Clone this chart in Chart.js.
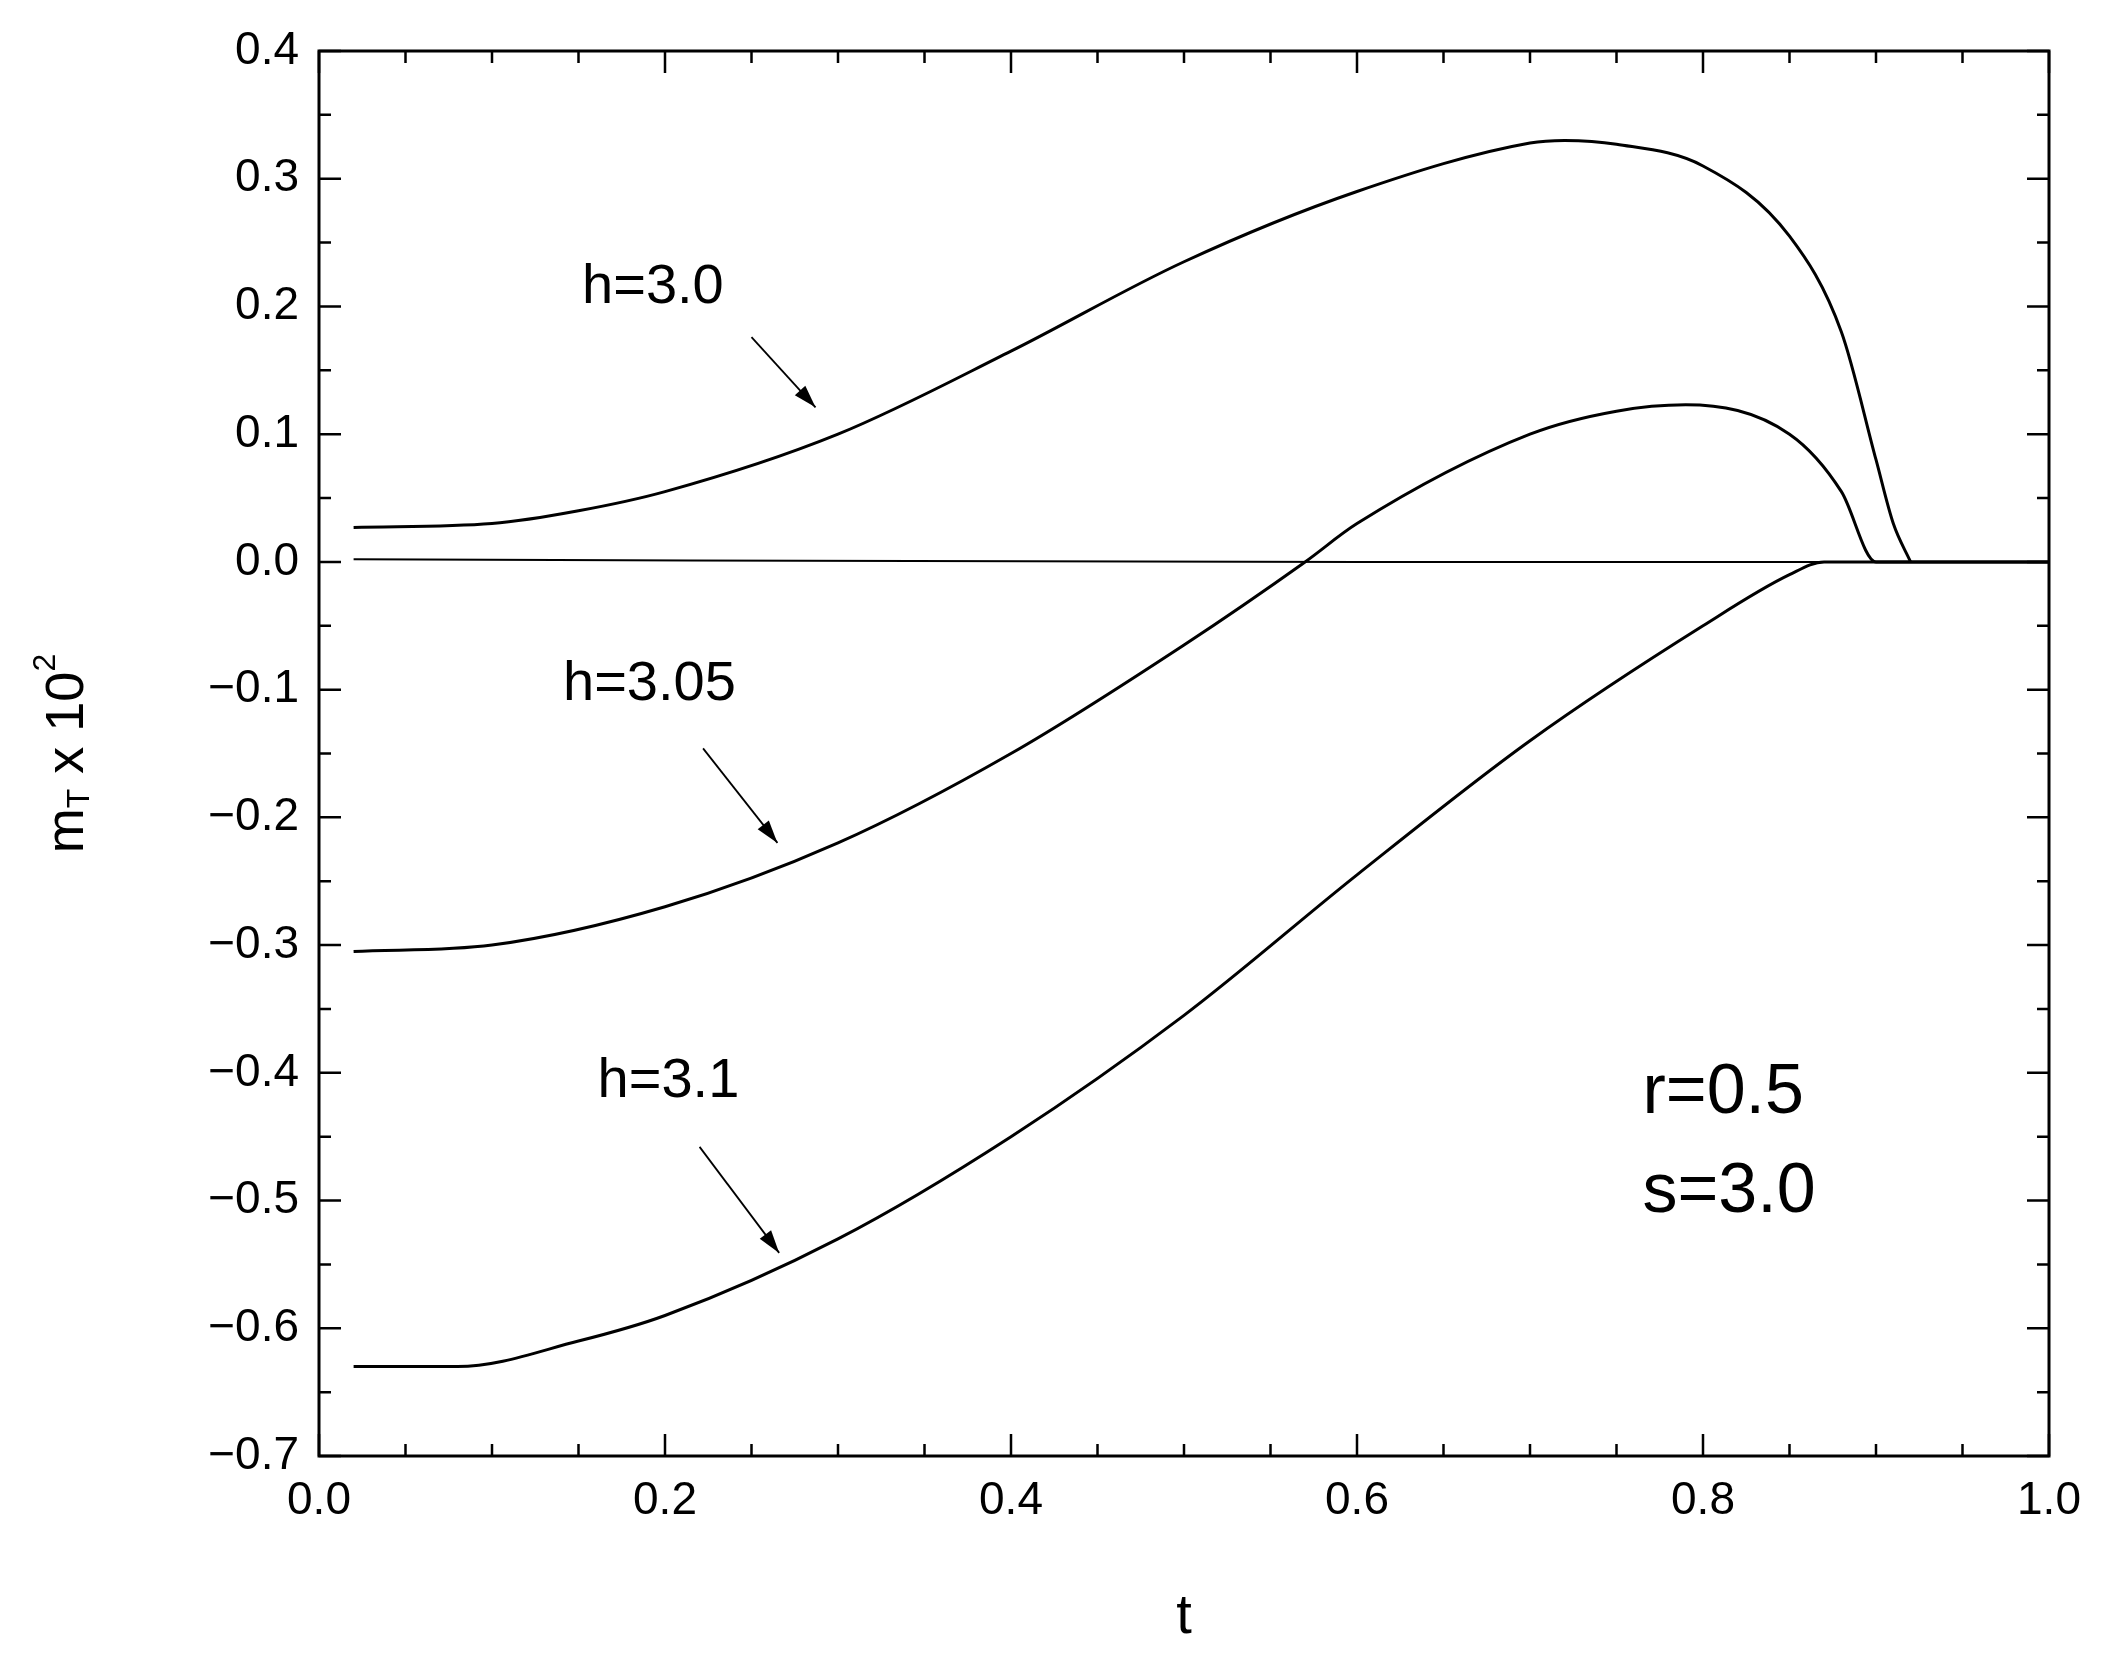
<!DOCTYPE html>
<html><head><meta charset="utf-8">
<script src="https://cdn.jsdelivr.net/npm/chart.js@4"></script>
<style>html,body{margin:0;background:#fff}#wrap{width:2112px;height:1672px}</style>
</head><body><div id="wrap"><canvas id="c"></canvas></div>
<script>
const h30T = [0.02, 0.1, 0.15, 0.2, 0.3, 0.4, 0.5, 0.6, 0.7, 0.72, 0.75, 0.8, 0.85, 0.88, 0.9, 0.91, 0.92]
const h30V = [0.027, 0.03, 0.04, 0.055, 0.1, 0.165, 0.235, 0.29, 0.328, 0.33, 0.327, 0.31, 0.255, 0.18, 0.08, 0.03, 0]
const h305T = [0.02, 0.1, 0.2, 0.3, 0.4, 0.5, 0.57, 0.6, 0.7, 0.75, 0.79, 0.85, 0.88, 0.9, 1.0]
const h305V = [-0.305, -0.3, -0.27, -0.22, -0.15, -0.065, 0, 0.03, 0.1, 0.118, 0.123, 0.1, 0.055, 0, 0]
const h31T = [0.02, 0.08, 0.15, 0.2, 0.3, 0.4, 0.5, 0.6, 0.7, 0.8, 0.85, 0.87, 1.0]
const h31V = [-0.63, -0.63, -0.61, -0.59, -0.53, -0.45, -0.355, -0.245, -0.14, -0.05, -0.01, 0, 0]
const zeroT = [0.02, 0.6, 1.0]
const zeroV = [0.002, 0, 0]

const labels = [
	{ text: 'h=3.0', t: 0.193, v: 0.215, at: [0.25, 0.176, 0.287, 0.121] },
	{ text: 'h=3.05', t: 0.191, v: -0.096, at: [0.222, -0.146, 0.265, -0.22] },
	{ text: 'h=3.1', t: 0.202, v: -0.407, at: [0.22, -0.458, 0.266, -0.541] }
]

const pts = (ts, vs) => ts.map((t, i) => ({ x: t, y: vs[i] }))
const line = (d, w) => ({ data: d, borderColor: 'black', borderWidth: w, pointRadius: 0, cubicInterpolationMode: 'monotone', fill: false })

const font = '"Liberation Sans", Arial, sans-serif'

const decor = {
	id: 'decor',
	afterDraw(chart) {
		const c = chart.ctx, a = chart.chartArea, x = chart.scales.x, y = chart.scales.y
		c.save()
		c.strokeStyle = 'black'
		c.lineWidth = 3
		c.strokeRect(a.left, a.top, a.right - a.left, a.bottom - a.top)
		// inside ticks
		c.lineWidth = 2.5
		for (let i = 0; i <= 20; i++) {
			const px = x.getPixelForValue(i * 0.05), L = i % 4 == 0 ? 22 : 12
			c.beginPath(); c.moveTo(px, a.bottom); c.lineTo(px, a.bottom - L)
			c.moveTo(px, a.top); c.lineTo(px, a.top + L); c.stroke()
		}
		for (let i = 0; i <= 22; i++) {
			const py = y.getPixelForValue(-0.7 + i * 0.05), L = i % 2 == 0 ? 22 : 12
			c.beginPath(); c.moveTo(a.left, py); c.lineTo(a.left + L, py)
			c.moveTo(a.right, py); c.lineTo(a.right - L, py); c.stroke()
		}
		c.fillStyle = 'black'
		c.font = '56px ' + font
		c.textAlign = 'center'; c.textBaseline = 'middle'
		for (const l of labels) {
			c.fillText(l.text, x.getPixelForValue(l.t), y.getPixelForValue(l.v))
			const x1 = x.getPixelForValue(l.at[0]), y1 = y.getPixelForValue(l.at[1])
			const x2 = x.getPixelForValue(l.at[2]), y2 = y.getPixelForValue(l.at[3])
			c.lineWidth = 1.8
			c.beginPath(); c.moveTo(x1, y1); c.lineTo(x2, y2); c.stroke()
			const ang = Math.atan2(y2 - y1, x2 - x1)
			c.beginPath(); c.moveTo(x2, y2)
			c.lineTo(x2 - 24 * Math.cos(ang - 0.3), y2 - 24 * Math.sin(ang - 0.3))
			c.lineTo(x2 - 24 * Math.cos(ang + 0.3), y2 - 24 * Math.sin(ang + 0.3))
			c.closePath(); c.fill()
		}
		c.font = '70px ' + font
		c.textAlign = 'left'
		c.fillText('r=0.5', x.getPixelForValue(0.765), y.getPixelForValue(-0.416))
		c.fillText('s=3.0', x.getPixelForValue(0.765), y.getPixelForValue(-0.494))
		// axis titles
		c.font = '56px ' + font
		c.textAlign = 'center'
		c.fillText('t', (a.left + a.right) / 2, 1618)
		c.translate(68, (a.top + a.bottom) / 2)
		c.rotate(-Math.PI / 2)
		c.textAlign = 'left'
		const parts = [['m', 54, 0], ['T', 32, 12], [' x 10', 54, 0], ['2', 32, -22]]
		let w = 0
		for (const p of parts) { c.font = p[1] + 'px ' + font; w += c.measureText(p[0]).width }
		let cx = -w / 2
		for (const p of parts) {
			c.font = p[1] + 'px ' + font
			c.fillText(p[0], cx, p[2])
			cx += c.measureText(p[0]).width
		}
		c.restore()
	}
}

new Chart(document.getElementById('c'), {
	type: 'line',
	data: {
		datasets: [
			line(pts(h30T, h30V), 3),
			line(pts(h305T, h305V), 3),
			line(pts(h31T, h31V), 3),
			line(pts(zeroT, zeroV), 2)
		]
	},
	options: {
		responsive: true,
		maintainAspectRatio: false,
		animation: false,
		layout: { padding: { top: 51, right: 63, left: 0, bottom: 0 } },
		plugins: { legend: { display: false }, tooltip: { enabled: false } },
		scales: {
			x: {
				type: 'linear', min: 0, max: 1,
				afterFit: s => { s.height = 216 },
				grid: { display: false }, border: { display: false },
				ticks: { stepSize: 0.2, color: 'black', font: { size: 46, family: font }, padding: 10, maxRotation: 0, callback: v => v.toFixed(1) }
			},
			y: {
				min: -0.7, max: 0.4,
				afterFit: s => { s.width = 319 },
				grid: { display: false }, border: { display: false },
				ticks: { stepSize: 0.1, color: 'black', font: { size: 46, family: font }, padding: 12, callback: v => v < 0 ? '\u2212' + Math.abs(v).toFixed(1) : v.toFixed(1) }
			}
		}
	},
	plugins: [decor]
})
</script></body></html>
